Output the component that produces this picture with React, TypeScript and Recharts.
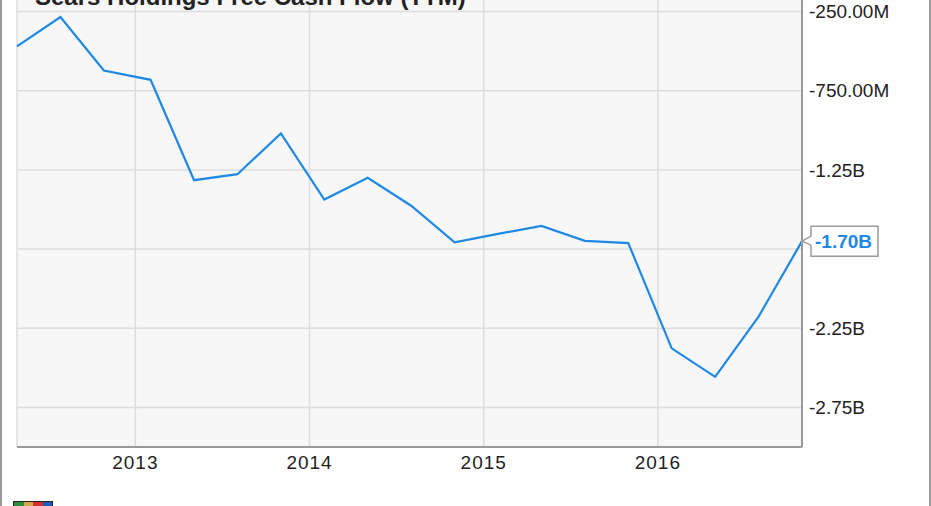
import React from 'react';
import { LineChart, Line, XAxis, YAxis, CartesianGrid, ReferenceDot } from 'recharts';

// Fiscal quarter ends (TTM free cash flow, millions USD)
const quarterEnds = [
  '2012-04-28', '2012-07-28', '2012-10-27', '2013-02-02',
  '2013-05-04', '2013-08-03', '2013-11-02', '2014-02-01',
  '2014-05-03', '2014-08-02', '2014-11-01', '2015-01-31',
  '2015-05-02', '2015-08-01', '2015-10-31', '2016-01-30',
  '2016-04-30', '2016-07-30', '2016-10-29',
];
const freeCashFlowM = [
  -470, -284, -622, -681,
  -1315, -1277, -1019, -1437,
  -1300, -1476, -1708, -1654,
  -1604, -1698, -1712, -2377,
  -2557, -2176, -1700,
];
const yearTicks = ['2013-01-01', '2014-01-01', '2015-01-01', '2016-01-01'];
const valueTicks = [-2750, -2250, -1750, -1250, -750, -250];
const hiddenTick = -1750;
const titleText = 'Sears Holdings Free Cash Flow (TTM)';
const lastLabel = '-1.70B';

const toTime = (s: string) => Date.parse(s + 'T00:00:00Z');
const data = quarterEnds.map((d, i) => ({ t: toTime(d), v: freeCashFlowM[i] }));
const xTicks = yearTicks.map(toTime);
const last = data[data.length - 1];

const FONT = '"Liberation Sans", Arial, Helvetica, sans-serif';
const BLUE = '#1e88e5';

const fmtValue = (v: number) => {
  if (v === hiddenTick) return '';
  if (Math.abs(v) >= 1000) return (v / 1000).toFixed(2) + 'B';
  return v.toFixed(2) + 'M';
};
const fmtYear = (t: number) => String(new Date(t).getUTCFullYear());

const Callout = (props: any) => {
  const { cx, cy } = props;
  if (cx == null || cy == null) return null;
  const l = cx + 9;
  const r = cx + 76;
  const d = `M${cx},${cy} L${l},${cy - 5} L${l},${cy - 15} L${r},${cy - 15} L${r},${cy + 15} L${l},${cy + 15} L${l},${cy + 4} Z`;
  return (
    <g>
      <path d={d} fill="#ffffff" stroke="#9a9a9a" strokeWidth={1.5} />
      <text x={l + 4} y={cy + 7} fill={BLUE} fontFamily={FONT} fontWeight="bold" fontSize={19}>
        {lastLabel}
      </text>
    </g>
  );
};

export default function App() {
  return (
    <div style={{ position: 'absolute', left: 0, top: 0, width: 931, height: 506, overflow: 'hidden', background: '#ffffff' }}>
      <div style={{ position: 'absolute', left: 0, top: -30 }}>
        <LineChart width={931} height={536} data={data} margin={{ top: 2, right: 29, bottom: 29, left: 17 }}>
          <CartesianGrid yAxisId="r" fill="#f7f7f7" stroke="#dcdcdc" strokeWidth={1.5} />
          <XAxis
            dataKey="t"
            type="number"
            scale="time"
            domain={[data[0].t, last.t]}
            ticks={xTicks}
            tickFormatter={fmtYear}
            interval={0}
            height={30}
            tickLine={false}
            tickSize={0}
            tickMargin={9}
            axisLine={{ stroke: '#999999', strokeWidth: 2 }}
            tick={{ fill: '#222222', fontSize: 19, fontFamily: FONT, letterSpacing: 1 }}
          />
          <YAxis
            yAxisId="l"
            orientation="left"
            width={0}
            domain={[-3000, 0]}
            tick={false}
            tickLine={false}
            axisLine={{ stroke: '#999999', strokeWidth: 2 }}
          />
          <YAxis
            yAxisId="r"
            orientation="right"
            width={100}
            domain={[-3000, 0]}
            ticks={valueTicks}
            tickFormatter={fmtValue}
            interval={0}
            tickLine={false}
            tickSize={0}
            tickMargin={7}
            axisLine={{ stroke: '#999999', strokeWidth: 2 }}
            tick={{ fill: '#222222', fontSize: 19, fontFamily: FONT }}
          />
          <Line
            yAxisId="r"
            type="linear"
            dataKey="v"
            stroke={BLUE}
            strokeWidth={2.2}
            dot={false}
            activeDot={false}
            isAnimationActive={false}
          />
          <ReferenceDot yAxisId="r" x={last.t} y={last.v} shape={Callout} ifOverflow="visible" />
        </LineChart>
      </div>
      <svg width={931} height={40} style={{ position: 'absolute', left: 0, top: 0 }}>
        <text x={35} y={5} fill="#222222" fontFamily={FONT} fontWeight="bold" fontSize={24}>
          {titleText}
        </text>
      </svg>
      <div style={{ position: 'absolute', left: 0, top: -10, width: 927, height: 530, borderLeft: '2px solid #9a9a9a', borderRight: '2px solid #9a9a9a' }} />
      <div style={{ position: 'absolute', left: 13, top: 501, width: 38, height: 10, border: '1px solid #222', display: 'flex' }}>
        <div style={{ flex: 1, background: '#2e8b3a' }} />
        <div style={{ flex: 1, background: '#d4a84a' }} />
        <div style={{ flex: 1, background: '#d32f2f' }} />
        <div style={{ flex: 1, background: '#1e5bb8' }} />
      </div>
    </div>
  );
}
